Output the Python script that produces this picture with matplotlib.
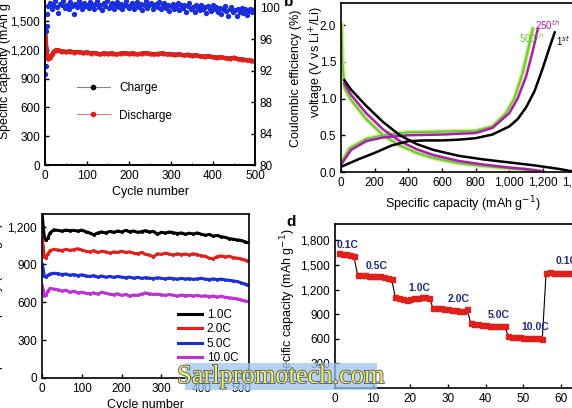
import numpy as np
import matplotlib.pyplot as plt
from matplotlib.lines import Line2D
from matplotlib.patches import Rectangle
from matplotlib.ticker import FuncFormatter, MultipleLocator
import matplotlib.patheffects as pe

plt.rcParams['font.family'] = ['Liberation Sans', 'DejaVu Sans']
plt.rcParams['font.size'] = 8.5

# ---- panel a: cycling at 1C, capacity + coulombic efficiency ----
a_cycles = [1, 3, 5, 8, 12, 16, 20, 25, 30, 35, 40, 50, 60, 70, 80, 90, 100,
            110, 120, 130, 140, 150, 160, 170, 180, 190, 200, 210, 220, 230,
            240, 250, 260, 270, 280, 290, 300, 310, 320, 330, 340, 350, 360,
            370, 380, 390, 400, 410, 420, 430, 440, 450, 460, 470, 480, 490, 500]
a_discharge = [1340, 1220, 1130, 1100, 1110, 1140, 1170, 1190, 1195, 1185, 1180,
               1175, 1180, 1170, 1175, 1165, 1170, 1160, 1165, 1150, 1160, 1155,
               1160, 1150, 1158, 1162, 1155, 1160, 1150, 1158, 1162, 1155, 1150,
               1155, 1160, 1152, 1150, 1145, 1150, 1140, 1145, 1135, 1140, 1130,
               1125, 1130, 1120, 1115, 1120, 1110, 1105, 1115, 1100, 1095, 1090,
               1085, 1075]
a_charge = [1350, 1230, 1140, 1110, 1118, 1148, 1176, 1195, 1200, 1190, 1185,
            1180, 1184, 1175, 1178, 1170, 1174, 1165, 1168, 1155, 1164, 1160,
            1163, 1155, 1162, 1166, 1160, 1164, 1155, 1162, 1166, 1160, 1155,
            1160, 1164, 1156, 1155, 1150, 1154, 1145, 1150, 1140, 1145, 1135,
            1130, 1135, 1125, 1120, 1124, 1115, 1110, 1119, 1105, 1100, 1095,
            1090, 1080]
ce_cycles = [1, 2, 3, 4, 5] + list(range(8, 501, 4))
ce_values = [91.6, 92.6, 97.0, 97.7, 99.2,
             100.2, 100.6, 99.9, 100.4, 100.8, 100.1, 99.3, 100.5, 100.3, 100.9,
             100.0, 100.4, 99.8, 100.7, 100.2, 99.2, 100.5, 100.1, 100.8, 100.3,
             99.9, 100.6, 100.2, 100.4,
             100.0, 100.7, 100.3, 99.8, 100.5, 100.9, 100.1, 100.4, 99.7, 100.6,
             100.2, 100.8, 100.0, 100.3, 100.6, 99.9, 100.4, 100.7, 100.1, 100.5,
             99.8, 100.3, 100.8, 100.2, 100.0,
             100.4, 100.6, 99.9, 100.2, 100.7, 100.1, 100.5, 99.7, 100.3, 100.8,
             100.0, 100.4, 100.6, 99.8, 100.2, 100.5, 100.1, 100.7, 99.9, 100.3,
             100.6, 100.0, 100.4, 99.6, 100.2,
             100.5, 99.8, 100.1, 100.6, 99.7, 100.3, 100.0, 100.4, 99.5, 100.2,
             100.6, 99.9, 100.1, 99.4, 100.3, 100.0, 99.7, 100.4, 99.8, 100.1,
             99.3, 100.2, 99.9, 99.6, 100.3,
             99.8, 100.1, 99.5, 100.0, 99.2, 99.9, 100.2, 99.6, 99.0, 99.8,
             100.1, 99.4, 99.7, 98.9, 99.9, 99.5, 100.0, 99.3, 99.8, 99.1,
             99.6, 99.9, 99.4, 99.7, 99.8]

# ---- panel b: voltage profiles ----
b1_chg_cap = [0, 50, 100, 200, 300, 400, 500, 600, 700, 800, 900, 1000, 1050,
              1100, 1150, 1200, 1240, 1270]
b1_chg_v = [0.07, 0.12, 0.17, 0.26, 0.36, 0.42, 0.43, 0.43, 0.44, 0.46, 0.51,
            0.62, 0.72, 0.88, 1.1, 1.42, 1.7, 1.9]
b1_dis_cap = [20, 60, 150, 250, 350, 450, 550, 700, 850, 1000, 1150, 1300, 1370]
b1_dis_v = [1.25, 1.12, 0.9, 0.68, 0.5, 0.38, 0.3, 0.22, 0.17, 0.13, 0.09,
            0.04, 0.01]
b250_chg_cap = [0, 60, 150, 250, 400, 600, 800, 900, 1000, 1050, 1100, 1140, 1170]
b250_chg_v = [0.1, 0.3, 0.42, 0.47, 0.5, 0.51, 0.53, 0.6, 0.8, 1.0, 1.3, 1.65, 1.95]
b250_dis_cap = [20, 60, 150, 250, 350, 450, 550, 700, 850, 1000, 1100, 1200]
b250_dis_v = [1.2, 1.05, 0.8, 0.58, 0.42, 0.31, 0.23, 0.15, 0.1, 0.06, 0.04, 0.01]
b500_chg_cap = [0, 50, 150, 250, 400, 600, 800, 900, 980, 1030, 1080, 1110, 1140]
b500_chg_v = [0.12, 0.32, 0.45, 0.5, 0.54, 0.55, 0.56, 0.62, 0.8, 1.0, 1.35,
              1.65, 1.95]
b500_dis_cap = [3, 8, 20, 60, 150, 250, 350, 450, 550, 700, 850, 1000, 1100, 1170]
b500_dis_v = [2.0, 1.5, 1.15, 0.98, 0.72, 0.5, 0.36, 0.26, 0.19, 0.12, 0.08,
              0.05, 0.03, 0.01]

# ---- panel c: long cycling at different rates ----
c_cycles = [1, 3, 6, 10, 15, 20, 30] + list(range(40, 511, 10)) + [515]
c_1C = [1280, 1200, 1110, 1090, 1110, 1150, 1175,
        1170, 1165, 1172, 1168, 1170, 1165, 1172, 1160, 1150, 1135, 1150, 1158,
        1150, 1162, 1155, 1165, 1158, 1170, 1160, 1165, 1155, 1160, 1168, 1158,
        1162, 1140, 1155, 1150, 1158, 1152, 1145, 1150, 1140, 1148, 1142, 1150,
        1140, 1132, 1138, 1125, 1130, 1120, 1115, 1105, 1100, 1095, 1090, 1080,
        1075]
c_2C = [1100, 1040, 960, 950, 985, 1010, 1020,
        1015, 1010, 1020, 1012, 1018, 1025, 1015, 1005, 1000, 1010, 995, 1005,
        1000, 990, 1000, 995, 1005, 995, 1000, 990, 985, 995, 980, 975,
        960, 985, 980, 990, 982, 975, 985, 978, 983, 975, 985, 978,
        970, 965, 950, 945, 962, 968, 960, 965, 955, 950, 945, 935,
        930]
c_5C = [900, 860, 805, 800, 815, 825, 830,
        828, 820, 825, 815, 820, 812, 818, 810, 805, 812, 800, 808,
        800, 805, 798, 805, 800, 795, 800, 792, 798, 790, 796, 792,
        788, 795, 790, 786, 792, 788, 784, 790, 785, 788, 782, 786,
        790, 784, 780, 786, 780, 784, 778, 775, 770, 765, 755, 745,
        740]
c_10C = [730, 700, 650, 655, 690, 710, 705,
         700, 690, 695, 680, 688, 675, 680, 672, 668, 675, 665, 680,
         672, 665, 660, 668, 655, 662, 650, 658, 655, 665, 675, 668,
         662, 665, 660, 655, 662, 656, 650, 658, 652, 655, 650, 656,
         648, 652, 645, 650, 642, 648, 640, 636, 632, 628, 620, 612,
         608]
c_labels = ['1.0C', '2.0C', '5.0C', '10.0C']

# ---- panel d: rate capability ----
d_capacity = [1645, 1640, 1630, 1620, 1605,
              1380, 1375, 1372, 1370, 1368, 1365, 1360, 1352, 1345, 1330,
              1110, 1100, 1085, 1075, 1090, 1095, 1100, 1105, 1108, 1100,
              975, 975, 970, 965, 960, 955, 950, 945, 940, 960,
              795, 785, 775, 770, 765, 760, 755, 755, 758, 752,
              630, 625, 620, 618, 615, 612, 610, 608, 605, 598,
              1405, 1410, 1405, 1400, 1402, 1398, 1400, 1400]
d_cycles = np.arange(1, len(d_capacity) + 1)
d_rates = ['0.1C', '0.5C', '1.0C', '2.0C', '5.0C', '10.0C', '0.1C']
d_label_x = [0.5, 8.0, 19.5, 30.0, 40.5, 49.5, 58.5]
d_label_y = [1710, 1450, 1185, 1050, 855, 705, 1510]

W, H = 572, 408


def box(l, t, r, b):
    return [l / W, 1 - b / H, (r - l) / W, (b - t) / H]


comma = FuncFormatter(lambda v, p: f"{v:,.0f}")


def style(ax):
    for s in ax.spines.values():
        s.set_linewidth(1.2)
    ax.tick_params(direction='in', length=3, width=1, labelsize=8.5)


fig = plt.figure(figsize=(W / 100, H / 100), dpi=100)

# panel a
ax = fig.add_axes(box(45, -8, 255, 165))
ax2 = ax.twinx()
ax.plot(a_cycles, a_charge, color='black', lw=2.5, marker='o', ms=1.5)
ax.plot(a_cycles, a_discharge, color='#e0201b', lw=3.2, marker='o', ms=2)
ax2.plot(ce_cycles, ce_values, ls='none', marker='o', ms=2.8, color='#1a2ee0')
ax.set_xlim(0, 500)
ax.set_ylim(0, 1800)
ax2.set_ylim(80, 102)
ax.set_yticks(range(0, 1501, 300))
ax.yaxis.set_major_formatter(comma)
ax2.set_yticks(range(80, 101, 4))
ax.xaxis.set_minor_locator(MultipleLocator(50))
ax.set_xlabel('Cycle number', fontsize=9, labelpad=3)
style(ax)
style(ax2)
ax.tick_params(which='minor', direction='in', length=1.5)
handles = [Line2D([], [], color='#888888', lw=0.8, marker='o', ms=3,
                  mfc='black', mec='black'),
           Line2D([], [], color='#e08080', lw=0.8, marker='o', ms=3,
                  mfc='#e0201b', mec='#e0201b')]
ax.legend(handles, ['Charge', 'Discharge'], loc='upper left',
          bbox_to_anchor=(0.1, 0.54), frameon=False, fontsize=8.5,
          labelspacing=1.3, handlelength=2.8)

# panel b
bx = fig.add_axes(box(341, 3, 585, 172))
bx.plot(b500_chg_cap, b500_chg_v, color='#e6e69a', lw=3.5)
bx.plot(b500_dis_cap, b500_dis_v, color='#e6e69a', lw=3.5)
bx.plot(b500_chg_cap, b500_chg_v, color='#66cc44', lw=1.6)
bx.plot(b500_dis_cap, b500_dis_v, color='#66cc44', lw=1.6)
bx.plot(b250_chg_cap, b250_chg_v, color='#a81fa8', lw=1.8)
bx.plot(b250_dis_cap, b250_dis_v, color='#a81fa8', lw=1.8)
bx.plot(b1_chg_cap, b1_chg_v, color='black', lw=1.8)
bx.plot(b1_dis_cap, b1_dis_v, color='black', lw=1.8)
bx.set_xlim(0, 1450)
bx.set_ylim(0, 2.3)
bx.set_xticks(range(0, 1401, 200))
bx.xaxis.set_major_formatter(comma)
bx.set_yticks([0, 0.5, 1.0, 1.5, 2.0])
bx.yaxis.set_major_formatter(FuncFormatter(lambda v, p: f"{v:.1f}"))
bx.set_xlabel('Specific capacity (mAh g$^{-1}$)', fontsize=9, labelpad=4)
style(bx)
bx.text(1060, 1.76, '500$^{th}$', color='#66cc44', fontsize=7)
bx.text(1150, 1.93, '250$^{th}$', color='#a81fa8', fontsize=7)
bx.text(1280, 1.72, '1$^{st}$', color='black', fontsize=7)

# panel c
cx = fig.add_axes(box(42, 214, 249, 378))
c_colors = ['black', '#e0201b', '#1a2ee0', '#c030d8']
for vals, col, lab in zip([c_1C, c_2C, c_5C, c_10C], c_colors, c_labels):
    cx.plot(c_cycles, vals, color=col, lw=2.2, marker='o', ms=1.2, label=lab)
cx.set_xlim(0, 520)
cx.set_ylim(0, 1300)
cx.set_xticks(range(0, 501, 100))
cx.set_yticks(range(0, 1201, 300))
cx.yaxis.set_major_formatter(comma)
cx.set_xlabel('Cycle number', fontsize=9, labelpad=3)
style(cx)
cx.legend(loc='lower right', bbox_to_anchor=(1.0, 0.02), frameon=False,
          fontsize=8.5, labelspacing=0.2, handlelength=2.0, handletextpad=0.4)

# panel d
dx = fig.add_axes(box(335, 224, 580, 388))
dx.plot(d_cycles, d_capacity, color='black', lw=0.8, marker='s', ms=3.6,
        mfc='#e0201b', mec='#e0201b')
for lab, lx, ly in zip(d_rates, d_label_x, d_label_y):
    dx.text(lx, ly, lab, color='#1f2a7a', fontsize=7.5, fontweight='bold')
dx.set_xlim(0, 65)
dx.set_ylim(0, 2000)
dx.set_xticks(range(0, 61, 10))
dx.set_yticks(range(300, 1801, 300))
dx.yaxis.set_major_formatter(comma)
dx.set_ylabel('Specific capacity (mAh g$^{-1}$)', fontsize=9, labelpad=2)
style(dx)

# outer labels
fig.text(5 / W, 1 - 62 / H, 'Specific capacity (mAh g$^{-1}$)', rotation=90,
         ha='center', va='center', fontsize=9)
fig.text(296 / W, 1 - 78 / H, 'Coulombic efficiency (%)', rotation=90,
         ha='center', va='center', fontsize=9)
fig.text(317 / W, 1 - 62 / H, 'voltage (V vs Li$^{+}$/Li)', rotation=90,
         ha='center', va='center', fontsize=9)
fig.text(-3 / W, 1 - 300 / H, 'Specific capacity (mAh g$^{-1}$)', rotation=90,
         ha='center', va='center', fontsize=9)
fig.text(289 / W, 1 - 2 / H, 'b', fontsize=11, fontweight='bold',
         ha='center', va='center')
fig.text(291 / W, 1 - 222 / H, 'd', fontsize=11, fontweight='bold',
         ha='center', va='center')

# watermark
fig.add_artist(Rectangle((185 / W, 1 - 390 / H), 192 / W, 27 / H,
                         transform=fig.transFigure, facecolor='#9cc4f0',
                         alpha=0.75, edgecolor='none', zorder=5))
fig.text(281 / W, 1 - 377 / H, 'Sarlpromotech.com', family='Liberation Serif',
         fontsize=19, color='#eeee70', ha='center', va='center', zorder=6,
         path_effects=[pe.withStroke(linewidth=1.2, foreground='#555555')])

fig.savefig('out.png', dpi=100)
